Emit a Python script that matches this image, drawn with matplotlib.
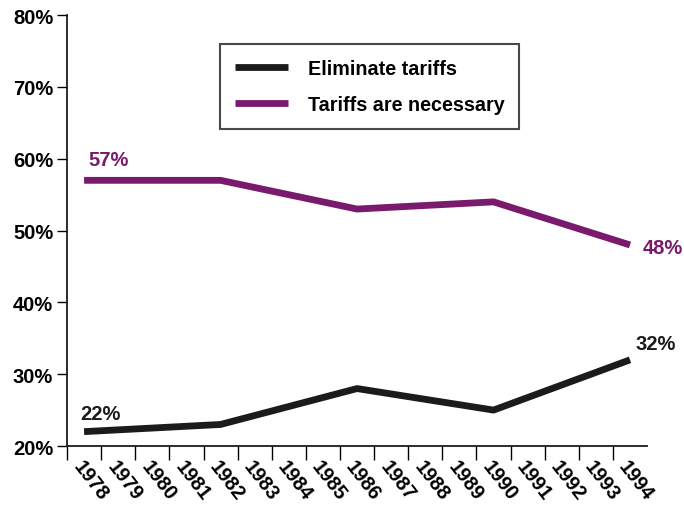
import numpy as np
import matplotlib.pyplot as plt

plt.rcParams['font.family'] = ['Liberation Sans', 'DejaVu Sans']
plt.rcParams['font.weight'] = 'bold'

# Survey data (percent)
years = [1978, 1982, 1986, 1990, 1994]
eliminate = [22, 23, 28, 25, 32]
necessary = [57, 57, 53, 54, 48]
year_labels = list(range(1978, 1995))
yticks = [20, 30, 40, 50, 60, 70, 80]

black = '#1b1b1b'
purple = '#7a1a6c'

fig = plt.figure(figsize=(6.84, 5.06), dpi=100)
ax = fig.add_axes([0.098, 0.1166, 0.848, 0.8514])

ax.plot(years, eliminate, color=black, lw=4.9, solid_capstyle='butt', label='Eliminate tariffs')
ax.plot(years, necessary, color=purple, lw=4.9, solid_capstyle='butt', label='Tariffs are necessary')

ax.set_xlim(year_labels[0] - 0.5, year_labels[-1] + 0.5)
ax.set_ylim(20, 80)

# ticks sit on the year boundaries, labels in the middle
ax.set_xticks(np.array(year_labels) - 0.5)
ax.set_xticklabels([])
ax.set_xticks(year_labels, minor=True)
ax.set_xticklabels([str(y) for y in year_labels], minor=True, fontsize=14.3)
ax.tick_params(axis='x', which='major', length=10, width=1, direction='out')
ax.tick_params(axis='x', which='minor', length=0, pad=8, labelrotation=-52)
for lab in ax.get_xticklabels(minor=True):
    lab.set_ha('left')
    lab.set_va('top')
    lab.set_rotation_mode('anchor')

ax.set_yticks(yticks)
ax.set_yticklabels([f'{v}%' for v in yticks], fontsize=14.5)
ax.tick_params(axis='y', length=7, width=1, direction='out', pad=3)

for side in ['top', 'right']:
    ax.spines[side].set_visible(False)
for side in ['left', 'bottom']:
    ax.spines[side].set_linewidth(1.3)
    ax.spines[side].set_color(black)

# end labels
ax.annotate(f'{necessary[0]}%', (years[0], necessary[0]), xytext=(3, 11),
            textcoords='offset points', color=purple, fontsize=14.5)
ax.annotate(f'{eliminate[0]}%', (years[0], eliminate[0]), xytext=(-3, 9),
            textcoords='offset points', color=black, fontsize=14.5)
ax.annotate(f'{necessary[-1]}%', (years[-1], necessary[-1]), xytext=(9, -6),
            textcoords='offset points', color=purple, fontsize=14.5)
ax.annotate(f'{eliminate[-1]}%', (years[-1], eliminate[-1]), xytext=(4, 8),
            textcoords='offset points', color=black, fontsize=14.5)

leg = ax.legend(loc='upper left', bbox_to_anchor=(0.264, 0.932), fontsize=14.2,
                frameon=True, fancybox=False, edgecolor=black, handlelength=2.7,
                handletextpad=1.0, borderpad=0.75, labelspacing=0.85, borderaxespad=0)
leg.get_frame().set_linewidth(1.5)

fig.savefig('out.png', dpi=100, facecolor='white')
